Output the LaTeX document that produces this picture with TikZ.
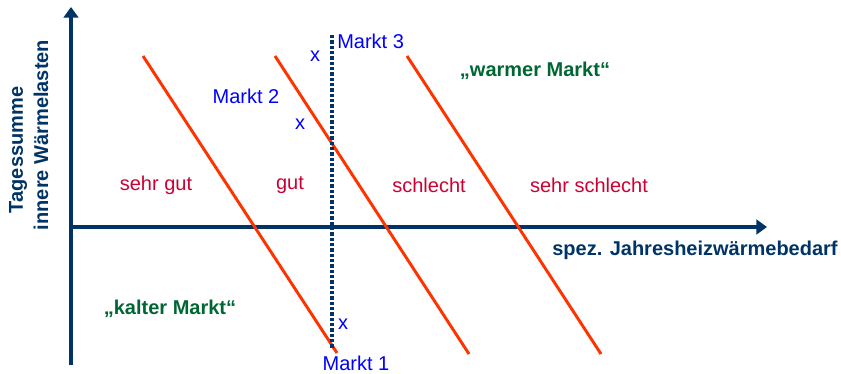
\documentclass[tikz,border=0pt]{standalone}
\usepackage{fontspec}
\setmainfont{Liberation Sans}
\usetikzlibrary{arrows.meta}
\definecolor{navy}{RGB}{0,51,102}
\definecolor{lineorange}{RGB}{255,51,0}
\definecolor{labred}{RGB}{204,0,51}
\definecolor{mktblue}{RGB}{0,0,255}
\definecolor{mktgreen}{RGB}{0,102,51}
\tikzset{
  axisline/.style={draw=navy, line width=2.6pt, -{Triangle[length=8pt,width=11pt]}},
  limitline/.style={draw=lineorange, line width=2.2pt},
  dashline/.style={draw=navy, line width=2.3pt, dash pattern=on 2.6pt off 1.4pt},
  bluetxt/.style={text=mktblue, font=\fontsize{15}{18}\selectfont, inner sep=0pt},
  redtxt/.style={text=labred, font=\fontsize{15}{18}\selectfont, inner sep=0pt},
  greentxt/.style={text=mktgreen, font=\bfseries\fontsize{15}{18}\selectfont, inner sep=0pt},
  axistxt/.style={text=navy, font=\bfseries\fontsize{15}{17}\selectfont, inner sep=0pt},
}
\begin{document}
\begin{tikzpicture}[x=0.75pt,y=-0.75pt]
\useasboundingbox (0,0) rectangle (841,374);
% axes
\coordinate (o) at (71,227);
\coordinate (ybot) at (71,365);
\coordinate (ytop) at (71,7);
\coordinate (xend) at (767,227);
\draw[axisline] (ybot) -- (ytop);
\draw[axisline] (o) -- (xend);
% limit lines
\coordinate (a1) at (143,56);  \coordinate (a2) at (337,353);
\coordinate (b1) at (275,56);  \coordinate (b2) at (469,354);
\coordinate (c1) at (407,56);  \coordinate (c2) at (601,354);
\draw[limitline] (a1) -- (a2);
\draw[limitline] (b1) -- (b2);
\draw[limitline] (c1) -- (c2);
% dashed market line
\coordinate (d1) at (332,35);
\coordinate (d2) at (332,348);
\draw[dashline] (d1) -- (d2);
% market labels
\node[bluetxt, anchor=west] (m3) at (337,41) {Markt 3};
\node[bluetxt] (x3) at (315,56) {x};
\node[bluetxt] (m2) at (246,96) {Markt 2};
\node[bluetxt] (x2) at (300,124) {x};
\node[bluetxt] (x1) at (343,324) {x};
\node[bluetxt] (m1) at (356,363) {Markt 1};
% zone labels
\node[redtxt] (z1) at (156,185) {sehr gut};
\node[redtxt] (z2) at (290,185) {gut};
\node[redtxt] (z3) at (429,185) {schlecht};
\node[redtxt] (z4) at (589,185) {sehr schlecht};
% market types
\node[greentxt] (warm) at (535,71) {„warmer Markt“};
\node[greentxt] (kalt) at (170,309) {„kalter Markt“};
% axis labels
\node[axistxt] (xl) at (695,250) {spez. Jahresheizwärmebedarf};
\node[axistxt, rotate=90] (yl1) at (18,150) {Tagessumme};
\node[axistxt, rotate=90] (yl2) at (41,135) {innere Wärmelasten};
\end{tikzpicture}
\end{document}
